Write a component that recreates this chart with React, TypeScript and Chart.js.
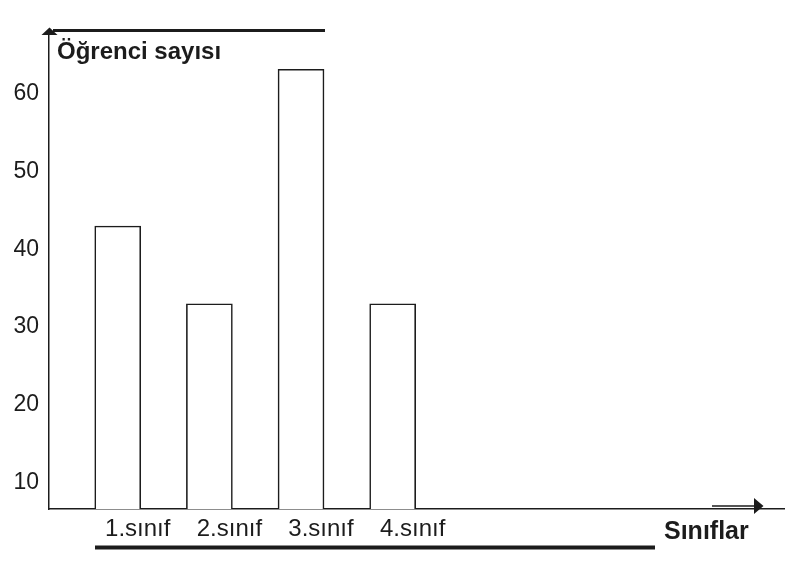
import React, { useEffect, useRef } from "react";
import { Chart, registerables } from "chart.js";

Chart.register(...registerables);

const categories = ["1.sınıf", "2.sınıf", "3.sınıf", "4.sınıf"];
const studentCounts = [43, 33, 63.2, 33];
const yTickValues = [10, 20, 30, 40, 50, 60];
const yAxisTitle = "Öğrenci sayısı";
const xAxisTitle = "Sınıflar";

const INK = "#1c1c1c";

const decorPlugin = {
  id: "decor",
  afterDraw(chart: any) {
    const { ctx, chartArea } = chart;
    const { left, top, bottom } = chartArea;
    ctx.save();
    ctx.fillStyle = INK;
    ctx.strokeStyle = INK;

    // top thick line
    ctx.lineWidth = 3;
    ctx.beginPath();
    ctx.moveTo(left + 4, top + 0.5);
    ctx.lineTo(325, top + 0.5);
    ctx.stroke();

    // up arrow head on y axis
    ctx.beginPath();
    ctx.moveTo(left + 0.5, top - 2.5);
    ctx.lineTo(left - 7.5, top + 5);
    ctx.lineTo(left + 8.5, top + 5);
    ctx.closePath();
    ctx.fill();

    // right arrow above baseline
    ctx.lineWidth = 1.5;
    ctx.beginPath();
    ctx.moveTo(712, bottom - 3);
    ctx.lineTo(756, bottom - 3);
    ctx.stroke();
    ctx.beginPath();
    ctx.moveTo(754, bottom - 11);
    ctx.lineTo(763.5, bottom - 3);
    ctx.lineTo(754, bottom + 5);
    ctx.closePath();
    ctx.fill();

    // bottom thick line
    ctx.lineWidth = 4;
    ctx.beginPath();
    ctx.moveTo(95, 547.5);
    ctx.lineTo(655, 547.5);
    ctx.stroke();

    // titles
    ctx.font = "bold 24px 'Liberation Sans', Arial, sans-serif";
    ctx.textBaseline = "alphabetic";
    ctx.textAlign = "left";
    ctx.fillText(yAxisTitle, 57, 59);
    ctx.font = "bold 25px 'Liberation Sans', Arial, sans-serif";
    ctx.fillText(xAxisTitle, 664, 539);
    ctx.restore();
  },
};

export default function App() {
  const canvasRef = useRef<HTMLCanvasElement | null>(null);

  useEffect(() => {
    const canvas = canvasRef.current;
    if (!canvas) return;
    const chart = new Chart(canvas, {
      type: "bar",
      data: {
        datasets: [
          {
            data: studentCounts.map((v, i) => ({ x: i, y: v })),
            backgroundColor: "#ffffff",
            borderColor: INK,
            borderWidth: 1.6,
            barThickness: 46,
          },
        ],
      },
      options: {
        responsive: false,
        animation: false,
        events: [],
        layout: { padding: { top: 30, right: 27, left: 0, bottom: 0 } },
        plugins: {
          legend: { display: false },
          tooltip: { enabled: false },
        },
        scales: {
          x: {
            type: "linear",
            offset: false,
            min: -0.75,
            max: 7.27,
            grid: { display: false, drawTicks: false, offset: false },
            border: { display: true, color: INK, width: 1.5 },
            afterBuildTicks: (scale: any) => {
              scale.ticks = categories.map((_, i) => ({ value: i }));
            },
            afterFit: (scale: any) => {
              scale.height = 62;
            },
            ticks: {
              autoSkip: false,
              maxRotation: 0,
              padding: 6,
              labelOffset: 20,
              color: INK,
              font: { family: "'Liberation Sans', Arial, sans-serif", size: 24 },
              callback: (v: any) => categories[v] ?? "",
            },
          },
          y: {
            type: "linear",
            min: 6.57,
            max: 68.25,
            grid: { display: false, drawTicks: false },
            border: { display: true, color: INK, width: 1.5 },
            afterBuildTicks: (scale: any) => {
              scale.ticks = yTickValues.map((v) => ({ value: v }));
            },
            afterFit: (scale: any) => {
              scale.width = 49;
            },
            ticks: {
              padding: 10,
              color: INK,
              font: { family: "'Liberation Sans', Arial, sans-serif", size: 23 },
            },
          },
        },
      },
      plugins: [decorPlugin],
    });
    return () => chart.destroy();
  }, []);

  return (
    <div style={{ position: "fixed", left: 0, top: 0, width: 811, height: 571, background: "#fff" }}>
      <canvas ref={canvasRef} width={811} height={571} style={{ width: 811, height: 571, display: "block" }} />
    </div>
  );
}
